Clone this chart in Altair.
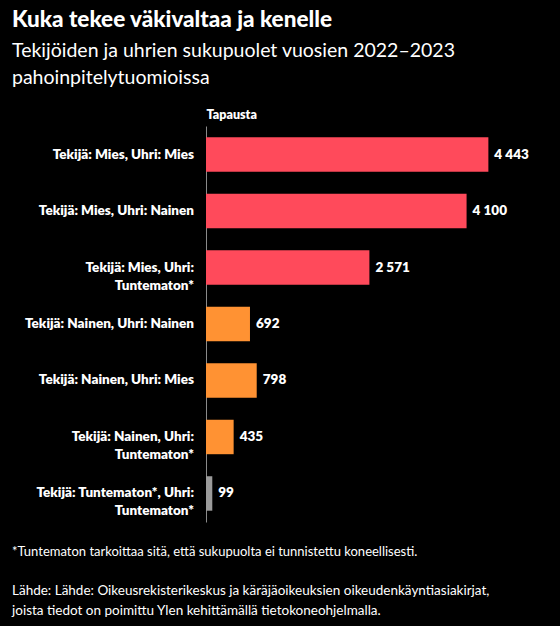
import altair as alt
import pandas as pd

categories = [
    "Tekijä: Mies, Uhri: Mies",
    "Tekijä: Mies, Uhri: Nainen",
    "Tekijä: Mies, Uhri:\nTuntematon*",
    "Tekijä: Nainen, Uhri: Nainen",
    "Tekijä: Nainen, Uhri: Mies",
    "Tekijä: Nainen, Uhri:\nTuntematon*",
    "Tekijä: Tuntematon*, Uhri:\nTuntematon*",
]
values = [4443, 4100, 2571, 692, 798, 435, 99]
groups = ["Mies", "Mies", "Mies", "Nainen", "Nainen", "Nainen", "Tuntematon"]
group_colors = ["#ff4a5b", "#ff9233", "#9b9b9b"]

FONT = "Lato"
W, H = 354, 396

df = pd.DataFrame({"cat": categories, "value": values, "group": groups})

y_enc = alt.Y("cat:N", sort=categories,
              scale=alt.Scale(paddingInner=0.39, paddingOuter=0.2),
              axis=alt.Axis(labels=False, ticks=False, title=None, domain=True,
                            domainColor="#8a8a8a", domainWidth=1, grid=False))
x_scale = alt.Scale(domain=[0, 5570], nice=False)

base = alt.Chart(df)

bars = base.mark_bar().encode(
    x=alt.X("value:Q", scale=x_scale,
            axis=alt.Axis(orient="top", labels=False, ticks=False, domain=False, grid=False,
                          title="Tapausta", titleAnchor="start", titleAlign="left",
                          titleColor="white", titleFont=FONT, titleFontSize=12.5,
                          titleFontWeight=800, titlePadding=5)),
    y=y_enc,
    color=alt.Color("group:N", scale=alt.Scale(domain=["Mies", "Nainen", "Tuntematon"],
                                               range=group_colors), legend=None),
)

vals = base.transform_calculate(
    lbl="replace(format(datum.value, ','), ',', ' ')"
).mark_text(align="left", baseline="middle", dx=6, color="white",
            font=FONT, fontSize=13.5, fontWeight=800).encode(
    x=alt.X("value:Q", scale=x_scale), y=y_enc, text="lbl:N")

cat_labels = base.mark_text(align="right", baseline="middle", color="white",
                            font=FONT, fontSize=13.5, fontWeight=800,
                            lineBreak="\n", lineHeight=18).encode(
    x=alt.value(-12), y=y_enc, text="cat:N")


def txt(s, x, y, size, weight="normal"):
    return alt.Chart(pd.DataFrame({"t": [s]})).mark_text(
        align="left", baseline="middle", color="white", font=FONT,
        fontSize=size, fontWeight=weight).encode(
        x=alt.value(x), y=alt.value(y), text="t:N")


L = -194
texts = [
    txt("Kuka tekee väkivaltaa ja kenelle", L, -106, 22.5, 900),
    txt("Tekijöiden ja uhrien sukupuolet vuosien 2022–2023", L, -75, 19.5),
    txt("pahoinpitelytuomioissa", L, -48, 19.5),
    txt("*Tuntematon tarkoittaa sitä, että sukupuolta ei tunnistettu koneellisesti.", L, H + 30, 13),
    txt("Lähde: Lähde: Oikeusrekisterikeskus ja käräjäoikeuksien oikeudenkäyntiasiakirjat,", L, H + 69, 13.5),
    txt("joista tiedot on poimittu Ylen kehittämällä tietokoneohjelmalla.", L, H + 89, 13.5),
]

chart = alt.layer(bars, vals, cat_labels, *texts).properties(
    width=W, height=H,
    autosize=alt.AutoSizeParams(type="none"),
    padding={"left": 206, "top": 126, "right": 0, "bottom": 104},
    background="black",
).configure_view(stroke=None)

chart.save("out.html", embed_options={"renderer": "svg", "actions": False})
